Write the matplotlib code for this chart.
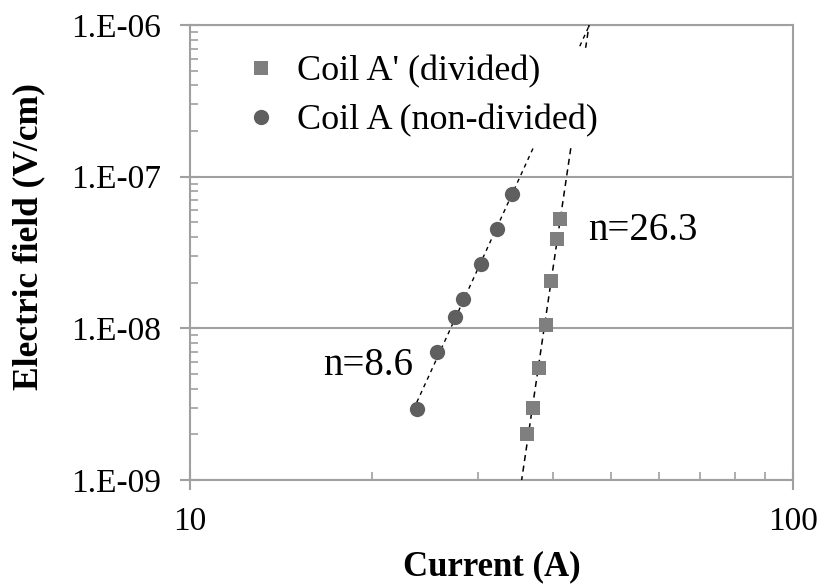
import matplotlib.pyplot as plt
import numpy as np
from matplotlib.ticker import FuncFormatter, LogLocator, NullFormatter

plt.rcParams['font.family'] = ['Liberation Serif', 'DejaVu Serif']

# Coil A' (divided) - squares
current_div = [36.2, 37.1, 37.9, 38.9, 39.65, 40.55, 41.1]
field_div = [2.0e-9, 3.0e-9, 5.45e-9, 1.06e-8, 2.06e-8, 3.87e-8, 5.25e-8]

# Coil A (non-divided) - circles
current_nd = [23.77, 25.66, 27.5, 28.4, 30.34, 32.3, 34.2]
field_nd = [2.96e-9, 6.95e-9, 1.19e-8, 1.56e-8, 2.66e-8, 4.5e-8, 7.66e-8]

n_labels = ['n=26.3', 'n=8.6']

grid_col = '#a0a0a0'

fig = plt.figure(figsize=(8.17, 5.87), dpi=100)
ax = fig.add_axes([0.2326, 0.1823, 0.738, 0.775])

# 拟合直线 (log-log)
p_div = np.polyfit(np.log10(current_div), np.log10(field_div), 1)
p_nd = np.polyfit(np.log10(current_nd), np.log10(field_nd), 1)
x_div = np.linspace(30, 50, 200)
x_nd = np.linspace(current_nd[0], 50, 200)
ax.plot(x_div, 10 ** np.polyval(p_div, np.log10(x_div)), color='black', lw=1.1,
        ls=(0, (4, 3)), zorder=3)
ax.plot(x_nd, 10 ** np.polyval(p_nd, np.log10(x_nd)), color='black', lw=1.0,
        ls=(0, (3, 3)), zorder=3)

ax.plot(current_div, field_div, 's', color='#7f7f7f', ms=10.5, mew=0, zorder=4,
        label="Coil A' (divided)")
ax.plot(current_nd, field_nd, 'o', color='#5f5f5f', ms=11, mew=0, zorder=4,
        label='Coil A (non-divided)')

ax.set_xscale('log')
ax.set_yscale('log')
ax.set_xlim(10, 100)
ax.set_ylim(1e-9, 1e-6)

ax.yaxis.set_major_formatter(FuncFormatter(lambda v, p: '1.E%03d' % round(np.log10(v)) if v > 0 else ''))
ax.xaxis.set_major_formatter(FuncFormatter(lambda v, p: '%d' % round(v)))
ax.xaxis.set_minor_locator(LogLocator(base=10, subs=np.arange(2, 10)))
ax.yaxis.set_minor_locator(LogLocator(base=10, subs=np.arange(2, 10)))
ax.xaxis.set_minor_formatter(NullFormatter())
ax.yaxis.set_minor_formatter(NullFormatter())

ax.grid(True, which='major', axis='y', color=grid_col, lw=1.5, zorder=0)
for s in ax.spines.values():
    s.set_color(grid_col)
    s.set_linewidth(1.5)

ax.tick_params(which='major', direction='inout', length=14, width=1.5, color=grid_col,
               labelsize=24, pad=14)
ax.tick_params(which='minor', direction='in', length=6, width=1.2, color=grid_col)
ax.tick_params(axis='x', which='major', pad=12)

ax.set_xlabel('Current (A)', fontsize=25, fontweight='bold')
ax.set_ylabel('Electric field (V/cm)', fontsize=25.5, fontweight='bold')
ax.xaxis.set_label_coords(0.5, -0.19)
ax.xaxis.label.set_va('center')
ax.yaxis.set_label_coords(-0.267, 0.534)
ax.yaxis.label.set_va('center')

ax.text(45.7, 4.4e-8, n_labels[0], fontsize=28, va='center', ha='left')
ax.text(23.4, 5.7e-9, n_labels[1], fontsize=28, va='center', ha='right')

leg = ax.legend(loc='upper left', bbox_to_anchor=(0.04, 0.99), fontsize=26,
                frameon=True, framealpha=1, edgecolor='white', handletextpad=0.4,
                handlelength=1.2, borderpad=0.2, labelspacing=0.44)
leg.set_zorder(5)

fig.savefig('out.png', dpi=100)
